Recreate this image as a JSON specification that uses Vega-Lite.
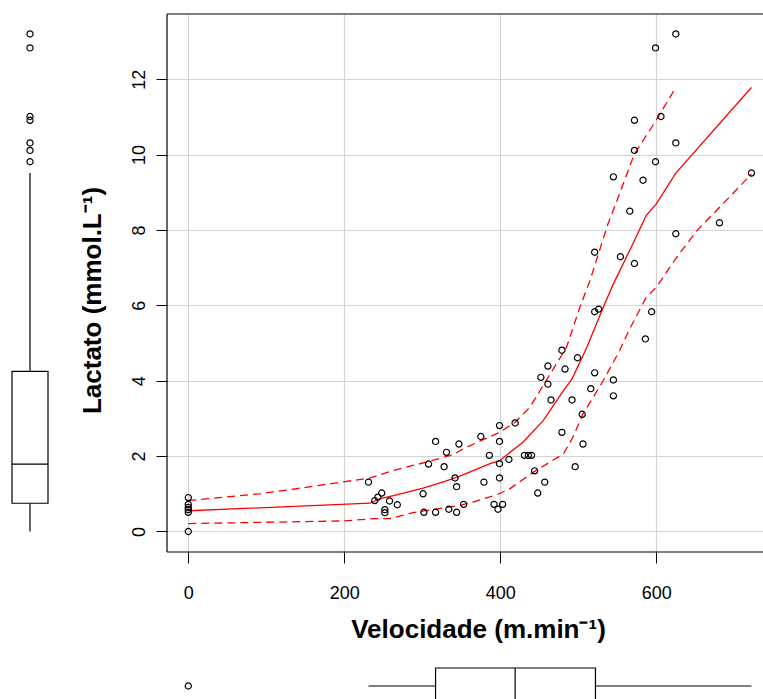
{
  "$schema": "https://vega.github.io/schema/vega-lite/v6.json",
  "padding": {"left": 0, "top": 13, "right": 0, "bottom": 0},
  "autosize": {"type": "pad"},
  "background": "white",
  "config": {
    "view": {"stroke": null},
    "font": "Liberation Sans",
    "axis": {
      "domain": false,
      "tickColor": "black",
      "tickSize": 11,
      "tickWidth": 1,
      "labelColor": "black",
      "labelFont": "Liberation Sans",
      "labelFontSize": 18,
      "labelOverlap": false,
      "labelFlush": false,
      "titleFont": "Liberation Sans",
      "titleFontSize": 26,
      "titleFontWeight": "bold",
      "titleColor": "black",
      "gridColor": "#d3d3d3",
      "gridWidth": 1.2
    }
  },
  "datasets": {
    "pts": [
      {"v": 0, "l": 0.9}, {"v": 0, "l": 0.72}, {"v": 0, "l": 0.64}, {"v": 0, "l": 0.58}, {"v": 0, "l": 0.51}, {"v": 0, "l": 0.0},
      {"v": 231, "l": 1.31}, {"v": 239, "l": 0.82}, {"v": 243, "l": 0.91}, {"v": 248, "l": 1.02}, {"v": 252, "l": 0.58}, {"v": 252, "l": 0.5}, {"v": 258, "l": 0.81}, {"v": 268, "l": 0.71},
      {"v": 301, "l": 1.0}, {"v": 302, "l": 0.51}, {"v": 308, "l": 1.79}, {"v": 317, "l": 2.39}, {"v": 317, "l": 0.51}, {"v": 328, "l": 1.72}, {"v": 331, "l": 2.1}, {"v": 334, "l": 0.59}, {"v": 342, "l": 1.42}, {"v": 344, "l": 1.19}, {"v": 344, "l": 0.51}, {"v": 347, "l": 2.32},
      {"v": 353, "l": 0.72}, {"v": 375, "l": 2.52}, {"v": 379, "l": 1.31}, {"v": 386, "l": 2.02}, {"v": 392, "l": 0.72}, {"v": 397, "l": 0.59}, {"v": 403, "l": 0.72}, {"v": 399, "l": 2.81}, {"v": 399, "l": 2.39}, {"v": 399, "l": 1.8}, {"v": 399, "l": 1.42},
      {"v": 411, "l": 1.91}, {"v": 419, "l": 2.88}, {"v": 431, "l": 2.02}, {"v": 436, "l": 2.02}, {"v": 440, "l": 2.02}, {"v": 444, "l": 1.61}, {"v": 448, "l": 1.02}, {"v": 457, "l": 1.31}, {"v": 452, "l": 4.09}, {"v": 461, "l": 4.39}, {"v": 461, "l": 3.91}, {"v": 465, "l": 3.49},
      {"v": 479, "l": 4.81}, {"v": 483, "l": 4.31}, {"v": 479, "l": 2.63}, {"v": 492, "l": 3.49}, {"v": 499, "l": 4.61}, {"v": 496, "l": 1.72}, {"v": 505, "l": 3.11}, {"v": 506, "l": 2.32}, {"v": 516, "l": 3.79}, {"v": 521, "l": 4.21}, {"v": 521, "l": 5.83}, {"v": 526, "l": 5.9}, {"v": 545, "l": 4.02}, {"v": 545, "l": 3.6},
      {"v": 625, "l": 13.2}, {"v": 599, "l": 12.83}, {"v": 606, "l": 11.01}, {"v": 572, "l": 10.91}, {"v": 625, "l": 10.31}, {"v": 572, "l": 10.11}, {"v": 599, "l": 9.81}, {"v": 545, "l": 9.41}, {"v": 583, "l": 9.32}, {"v": 722, "l": 9.51},
      {"v": 566, "l": 8.5}, {"v": 681, "l": 8.19}, {"v": 625, "l": 7.9}, {"v": 521, "l": 7.41}, {"v": 554, "l": 7.29}, {"v": 572, "l": 7.11}, {"v": 594, "l": 5.83}, {"v": 586, "l": 5.11}
    ],
    "fit": [
      {"v": 0, "l": 0.55}, {"v": 233, "l": 0.75}, {"v": 246, "l": 0.87}, {"v": 263, "l": 0.95}, {"v": 301, "l": 1.15}, {"v": 329, "l": 1.33}, {"v": 348, "l": 1.47}, {"v": 387, "l": 1.8}, {"v": 399, "l": 1.88}, {"v": 429, "l": 2.37}, {"v": 455, "l": 2.94}, {"v": 481, "l": 3.74}, {"v": 492, "l": 4.05}, {"v": 511, "l": 4.89}, {"v": 532, "l": 5.95}, {"v": 545, "l": 6.57}, {"v": 572, "l": 7.72}, {"v": 587, "l": 8.38}, {"v": 600, "l": 8.69}, {"v": 625, "l": 9.51}, {"v": 722, "l": 11.78}
    ],
    "band": [
      {"c": "upper", "v": 0, "l": 0.82}, {"c": "upper", "v": 92, "l": 1.0}, {"c": "upper", "v": 147, "l": 1.16}, {"c": "upper", "v": 233, "l": 1.42}, {"c": "upper", "v": 263, "l": 1.62}, {"c": "upper", "v": 305, "l": 1.84}, {"c": "upper", "v": 340, "l": 2.04}, {"c": "upper", "v": 352, "l": 2.19}, {"c": "upper", "v": 399, "l": 2.63}, {"c": "upper", "v": 419, "l": 2.9}, {"c": "upper", "v": 438, "l": 3.3}, {"c": "upper", "v": 464, "l": 4.18}, {"c": "upper", "v": 485, "l": 4.89}, {"c": "upper", "v": 502, "l": 5.95}, {"c": "upper", "v": 515, "l": 6.66}, {"c": "upper", "v": 538, "l": 8.16}, {"c": "upper", "v": 547, "l": 8.64}, {"c": "upper", "v": 572, "l": 10.02}, {"c": "upper", "v": 598, "l": 10.85}, {"c": "upper", "v": 625, "l": 11.78},
      {"c": "lower", "v": 0, "l": 0.21}, {"c": "lower", "v": 199, "l": 0.28}, {"c": "lower", "v": 237, "l": 0.34}, {"c": "lower", "v": 258, "l": 0.34}, {"c": "lower", "v": 288, "l": 0.5}, {"c": "lower", "v": 331, "l": 0.64}, {"c": "lower", "v": 348, "l": 0.69}, {"c": "lower", "v": 365, "l": 0.78}, {"c": "lower", "v": 395, "l": 0.97}, {"c": "lower", "v": 412, "l": 1.13}, {"c": "lower", "v": 442, "l": 1.57}, {"c": "lower", "v": 481, "l": 2.06}, {"c": "lower", "v": 493, "l": 2.5}, {"c": "lower", "v": 506, "l": 3.12}, {"c": "lower", "v": 532, "l": 4.0}, {"c": "lower", "v": 553, "l": 4.8}, {"c": "lower", "v": 566, "l": 5.38}, {"c": "lower", "v": 587, "l": 6.21}, {"c": "lower", "v": 600, "l": 6.48}, {"c": "lower", "v": 626, "l": 7.27}, {"c": "lower", "v": 652, "l": 7.98}, {"c": "lower", "v": 722, "l": 9.48}
    ],
    "boxY": [{"q1": 0.75, "med": 1.79, "q3": 4.25, "lo": 0, "hi": 9.51}],
    "outY": [{"l": 9.81}, {"l": 10.11}, {"l": 10.31}, {"l": 10.91}, {"l": 11.01}, {"l": 12.83}, {"l": 13.2}],
    "boxX": [{"q1": 317, "med": 419, "q3": 522, "lo": 231, "hi": 722}],
    "outX": [{"v": 0}]
  },
  "columns": 2,
  "align": "each",
  "bounds": "flush",
  "spacing": {"row": 104, "column": 107},
  "resolve": {"scale": {"x": "independent", "y": "independent"}},
  "concat": [
    {
      "width": 60,
      "height": 538,
      "layer": [
        {
          "data": {"name": "boxY"},
          "mark": {"type": "rule", "color": "black", "strokeWidth": 1.2},
          "encoding": {
            "x": {"datum": 0.5, "type": "quantitative", "scale": {"domain": [0, 1], "nice": false, "zero": false}, "axis": null},
            "y": {"field": "q3", "type": "quantitative", "scale": {"domain": [-0.544, 13.73], "nice": false, "zero": false}, "axis": null},
            "y2": {"field": "hi"}
          }
        },
        {
          "data": {"name": "boxY"},
          "mark": {"type": "rule", "color": "black", "strokeWidth": 1.2},
          "encoding": {
            "x": {"datum": 0.5, "type": "quantitative"},
            "y": {"field": "lo", "type": "quantitative"},
            "y2": {"field": "q1"}
          }
        },
        {
          "data": {"name": "boxY"},
          "mark": {"type": "rect", "fill": "white", "stroke": "black", "strokeWidth": 1.2},
          "encoding": {
            "x": {"datum": 0.2, "type": "quantitative"},
            "x2": {"datum": 0.8},
            "y": {"field": "q1", "type": "quantitative"},
            "y2": {"field": "q3"}
          }
        },
        {
          "data": {"name": "boxY"},
          "mark": {"type": "rule", "color": "black", "strokeWidth": 1.2},
          "encoding": {
            "x": {"datum": 0.2, "type": "quantitative"},
            "x2": {"datum": 0.8},
            "y": {"field": "med", "type": "quantitative"}
          }
        },
        {
          "data": {"name": "outY"},
          "mark": {"type": "point", "shape": "circle", "filled": false, "stroke": "black", "strokeWidth": 1.2, "size": 38, "opacity": 1},
          "encoding": {
            "x": {"datum": 0.5, "type": "quantitative"},
            "y": {"field": "l", "type": "quantitative"}
          }
        }
      ]
    },
    {
      "width": 596,
      "height": 538,
      "layer": [
        {
          "encoding": {
            "x": {
              "field": "v", "type": "quantitative",
              "scale": {"domain": [-27.3, 736.8], "nice": false, "zero": false},
              "axis": {
                "values": [0, 200, 400, 600],
                "grid": true,
                "title": "Velocidade (m.min⁻¹)",
                "labelBaseline": "alphabetic",
                "labelPadding": 35,
                "titleX": 311,
                "titleY": 85,
                "titleBaseline": "alphabetic",
                "titleAlign": "center"
              }
            },
            "y": {
              "field": "l", "type": "quantitative",
              "scale": {"domain": [-0.544, 13.73], "nice": false, "zero": false},
              "axis": {
                "values": [0, 2, 4, 6, 8, 10, 12],
                "grid": true,
                "title": "Lactato (mmol.L⁻¹)",
                "labelAngle": 270,
                "labelAlign": "center",
                "labelBaseline": "alphabetic",
                "labelPadding": 12,
                "titleAngle": 270,
                "titleX": -67,
                "titleY": 286,
                "titleAlign": "center",
                "titleBaseline": "alphabetic"
              }
            }
          },
          "layer": [
            {
              "data": {"name": "band"},
              "mark": {"type": "line", "color": "red", "strokeWidth": 1.3, "strokeDash": [8, 5]},
              "encoding": {"detail": {"field": "c"}}
            },
            {
              "data": {"name": "fit"},
              "mark": {"type": "line", "color": "red", "strokeWidth": 1.3}
            },
            {
              "data": {"name": "pts"},
              "mark": {"type": "point", "shape": "circle", "filled": false, "stroke": "black", "strokeWidth": 1.2, "size": 38, "opacity": 1}
            }
          ]
        },
        {
          "data": {"values": [{}]},
          "mark": {"type": "rule", "color": "black", "strokeWidth": 1.2},
          "encoding": {
            "x": {"datum": -27.3, "type": "quantitative"},
            "y": {"datum": -0.544, "type": "quantitative"},
            "y2": {"datum": 13.73}
          }
        },
        {
          "data": {"values": [{}]},
          "mark": {"type": "rule", "color": "black", "strokeWidth": 1.2},
          "encoding": {
            "x": {"datum": -27.3, "type": "quantitative"},
            "x2": {"datum": 736.8},
            "y": {"datum": 13.73, "type": "quantitative"}
          }
        },
        {
          "data": {"values": [{}]},
          "mark": {"type": "rule", "color": "black", "strokeWidth": 1.2},
          "encoding": {
            "x": {"datum": -27.3, "type": "quantitative"},
            "x2": {"datum": 736.8},
            "y": {"datum": -0.544, "type": "quantitative"}
          }
        }
      ]
    },
    {
      "width": 60,
      "height": 44,
      "data": {"values": [{}]},
      "mark": {"type": "point", "opacity": 0},
      "encoding": {}
    },
    {
      "width": 596,
      "height": 44,
      "layer": [
        {
          "data": {"name": "boxX"},
          "mark": {"type": "rule", "color": "black", "strokeWidth": 1.2},
          "encoding": {
            "x": {"field": "lo", "type": "quantitative", "scale": {"domain": [-27.3, 736.8], "nice": false, "zero": false}, "axis": null},
            "x2": {"field": "q1"},
            "y": {"datum": 0.5, "type": "quantitative", "scale": {"domain": [0, 0.7333], "reverse": true, "nice": false, "zero": false}, "axis": null}
          }
        },
        {
          "data": {"name": "boxX"},
          "mark": {"type": "rule", "color": "black", "strokeWidth": 1.2},
          "encoding": {
            "x": {"field": "q3", "type": "quantitative"},
            "x2": {"field": "hi"},
            "y": {"datum": 0.5, "type": "quantitative"}
          }
        },
        {
          "data": {"name": "boxX"},
          "mark": {"type": "rect", "fill": "white", "stroke": "black", "strokeWidth": 1.2, "clip": true},
          "encoding": {
            "x": {"field": "q1", "type": "quantitative"},
            "x2": {"field": "q3"},
            "y": {"datum": 0.2, "type": "quantitative"},
            "y2": {"datum": 0.8}
          }
        },
        {
          "data": {"name": "boxX"},
          "mark": {"type": "rule", "color": "black", "strokeWidth": 1.2, "clip": true},
          "encoding": {
            "x": {"field": "med", "type": "quantitative"},
            "y": {"datum": 0.2, "type": "quantitative"},
            "y2": {"datum": 0.8}
          }
        },
        {
          "data": {"name": "outX"},
          "mark": {"type": "point", "shape": "circle", "filled": false, "stroke": "black", "strokeWidth": 1.2, "size": 38, "opacity": 1},
          "encoding": {
            "x": {"field": "v", "type": "quantitative"},
            "y": {"datum": 0.5, "type": "quantitative"}
          }
        }
      ]
    }
  ]
}
